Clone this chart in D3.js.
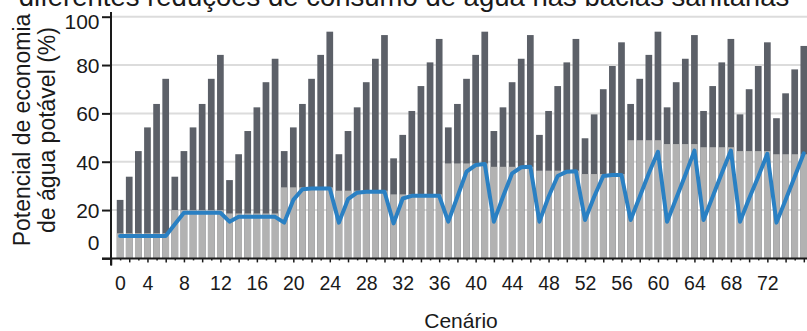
<!DOCTYPE html>
<html>
<head>
<meta charset="utf-8">
<script src="https://cdn.jsdelivr.net/npm/d3@7"></script>
<style>
  html, body { margin: 0; padding: 0; background: #fff; }
  svg { display: block; font-family: "Liberation Sans", Arial, sans-serif; }
</style>
</head>
<body>
<svg id="chart" width="807" height="331"></svg>
<script>
// Scenario numbers (one bar per scenario)
const scenarios = [
  1, 2, 3, 4, 5, 6, 7, 8, 9, 10, 11, 12, 13, 14, 15, 16, 17, 18, 19, 20,
  21, 22, 23, 24, 25, 26, 27, 28, 29, 30, 31, 32, 33, 34, 35, 36, 37, 38, 39, 40,
  41, 42, 43, 44, 45, 46, 47, 48, 49, 50, 51, 52, 53, 54, 55, 56, 57, 58, 59, 60,
  61, 62, 63, 64, 65, 66, 67, 68, 69, 70, 71, 72, 73, 74, 75, 76
];

// Total potential saving (%) – dark bars
const totalSaving = [
  24.2, 33.8, 44.4, 54.2, 63.9, 74.3,
  33.8, 44.4, 54.2, 63.9, 74.3, 84.2,
  32.4, 43.1, 52.7, 62.5, 72.9, 82.6,
  44.4, 54.2, 63.9, 74.3, 84.2, 93.8,
  43.1, 52.7, 62.5, 72.9, 82.6, 92.4,
  41.4, 51.1, 61.0, 71.3, 81.1, 90.8,
  54.2, 63.9, 74.3, 84.2, 93.8,
  52.7, 62.5, 72.9, 82.6, 92.4,
  51.1, 61.0, 71.3, 81.1, 90.8,
  49.7, 59.6, 70.0, 79.6, 89.4,
  63.9, 74.3, 84.2, 93.8,
  62.5, 72.9, 82.6, 92.4,
  61.0, 71.3, 81.1, 90.8,
  59.6, 70.0, 79.6, 89.4,
  58.0, 68.3, 78.2, 87.9
];

// Saving from the toilet reduction alone (%) – light bars
const baseSaving = [
  10.4, 10.4, 10.4, 10.4, 10.4, 10.4,
  20.0, 20.0, 20.0, 20.0, 20.0, 20.0,
  18.6, 18.6, 18.6, 18.6, 18.6, 18.6,
  29.4, 29.4, 29.4, 29.4, 29.4, 29.4,
  28.0, 28.0, 28.0, 28.0, 28.0, 28.0,
  26.5, 26.5, 26.5, 26.5, 26.5, 26.5,
  39.3, 39.3, 39.3, 39.3, 39.3,
  37.9, 37.9, 37.9, 37.9, 37.9,
  36.3, 36.3, 36.3, 36.3, 36.3,
  34.9, 34.9, 34.9, 34.9, 34.9,
  48.9, 48.9, 48.9, 48.9,
  47.3, 47.3, 47.3, 47.3,
  46.0, 46.0, 46.0, 46.0,
  44.4, 44.4, 44.4, 44.4,
  43.1, 43.1, 43.1, 43.1
];

// Blue line series (%)
const lineSaving = [
  9.3, 9.3, 9.3, 9.3, 9.3, 9.3,
  14.1, 18.9, 18.9, 18.9, 18.9, 18.9,
  15.2, 17.2, 17.2, 17.2, 17.2, 17.2,
  14.8, 24.2, 28.6, 28.9, 28.9, 28.9,
  14.8, 24.5, 27.2, 27.6, 27.6, 27.6,
  14.5, 24.8, 25.9, 25.9, 25.9, 25.9,
  15.2, 25.5, 35.9, 38.6, 39.1,
  15.2, 25.5, 35.2, 37.7, 37.9,
  15.2, 25.5, 34.1, 35.9, 36.1,
  15.9, 25.5, 34.1, 34.5, 34.5,
  15.9, 25.5, 35.2, 44.1,
  15.2, 24.8, 34.5, 44.6,
  15.9, 25.5, 35.2, 44.6,
  15.2, 24.8, 33.8, 43.3,
  14.8, 24.2, 33.8, 43.5
];

const xTickLabels = [0, 4, 8, 12, 16, 20, 24, 28, 32, 36, 40, 44, 48, 52, 56, 60, 64, 68, 72];
const yTickLabels = [0, 20, 40, 60, 80, 100];

const W = 807, H = 331;
const step = 9.116;
const x = d3.scaleLinear().domain([0, 77]).range([111, 111 + 77 * step]);
const y = d3.scaleLinear().domain([0, 100]).range([258.4, 16.7]);

const svg = d3.select("#chart");
const ink = "#1a1a1a";

// Title (runs off the top edge)
svg.append("text")
  .attr("x", 404).attr("y", 6)
  .attr("text-anchor", "middle")
  .attr("font-size", 27.5)
  .attr("fill", ink)
  .text("diferentes reduções de consumo de água nas bacias sanitárias");

// Horizontal gridlines
svg.append("g")
  .selectAll("line")
  .data(yTickLabels.filter(d => d > 0))
  .join("line")
  .attr("x1", x(0)).attr("x2", W)
  .attr("y1", d => y(d)).attr("y2", d => y(d))
  .attr("stroke", "#dcdcdc")
  .attr("stroke-width", 2);

// Bars: total (dark) behind, base (light) in front
const bw = 6.7;
svg.append("g")
  .selectAll("rect")
  .data(scenarios)
  .join("rect")
  .attr("x", d => x(d) - bw / 2)
  .attr("width", bw)
  .attr("y", (d, i) => y(totalSaving[i]))
  .attr("height", (d, i) => y(0) - y(totalSaving[i]))
  .attr("fill", "#5c6068");

svg.append("g")
  .selectAll("rect")
  .data(scenarios)
  .join("rect")
  .attr("x", d => x(d) - bw / 2)
  .attr("width", bw)
  .attr("y", (d, i) => y(baseSaving[i]))
  .attr("height", (d, i) => y(0) - y(baseSaving[i]))
  .attr("fill", "#b2b2b2");

// Line
const line = d3.line()
  .x((d, i) => x(scenarios[i]))
  .y(d => y(d));
svg.append("path")
  .datum(lineSaving)
  .attr("d", line)
  .attr("fill", "none")
  .attr("stroke", "#2a80c3")
  .attr("stroke-width", 4)
  .attr("stroke-linejoin", "round")
  .attr("stroke-linecap", "round");

// Y axis
const yAxis = svg.append("g")
  .attr("transform", `translate(${x(0)},0)`)
  .call(d3.axisLeft(y).tickValues(yTickLabels).tickSize(9).tickPadding(3));
yAxis.select(".domain").remove();
yAxis.selectAll(".tick line").attr("stroke", ink).attr("stroke-width", 2);
yAxis.selectAll(".tick text")
  .attr("font-size", 21)
  .attr("font-family", "Liberation Sans, Arial, sans-serif")
  .attr("fill", ink)
  .attr("x", -11.5)
  .attr("dy", "0.36em")
  .attr("transform", d => d === 0 ? "translate(0,-16)" : d === 100 ? "translate(0,4.5)" : null);

// X axis
const xAxis = svg.append("g")
  .attr("transform", `translate(0,${y(0)})`)
  .call(d3.axisBottom(x)
    .tickValues(d3.range(0, 78))
    .tickSize(4)
    .tickFormat(d => xTickLabels.includes(d) ? d : ""));
xAxis.select(".domain").remove();
xAxis.selectAll(".tick line")
  .attr("stroke", ink)
  .attr("stroke-width", 1.5)
  .attr("y2", d => d === 0 ? 7 : (d % 2 ? 2 : 4));
xAxis.selectAll(".tick text")
  .attr("font-size", 19.5)
  .attr("font-family", "Liberation Sans, Arial, sans-serif")
  .attr("fill", ink)
  .attr("y", 31.6)
  .attr("dy", 0)
  .attr("transform", d => d === 0 ? "translate(9,0)" : null);

// Axis lines crossing at the origin
svg.append("line")
  .attr("x1", x(0) - 9).attr("x2", W + 2)
  .attr("y1", y(0)).attr("y2", y(0))
  .attr("stroke", ink).attr("stroke-width", 2);
svg.append("line")
  .attr("x1", x(0)).attr("x2", x(0))
  .attr("y1", 12).attr("y2", y(0) + 7)
  .attr("stroke", ink).attr("stroke-width", 2);

// Axis titles
svg.append("text")
  .attr("x", 461).attr("y", 327.5)
  .attr("text-anchor", "middle")
  .attr("font-size", 21)
  .attr("fill", ink)
  .text("Cenário");

const yTitle = svg.append("text")
  .attr("transform", "translate(0,130) rotate(-90)")
  .attr("text-anchor", "middle")
  .attr("font-size", 23)
  .attr("fill", ink);
yTitle.append("tspan").attr("x", 0).attr("y", 30).text("Potencial de economia");
yTitle.append("tspan").attr("x", 0).attr("y", 55).text("de água potável (%)");
</script>
</body>
</html>
